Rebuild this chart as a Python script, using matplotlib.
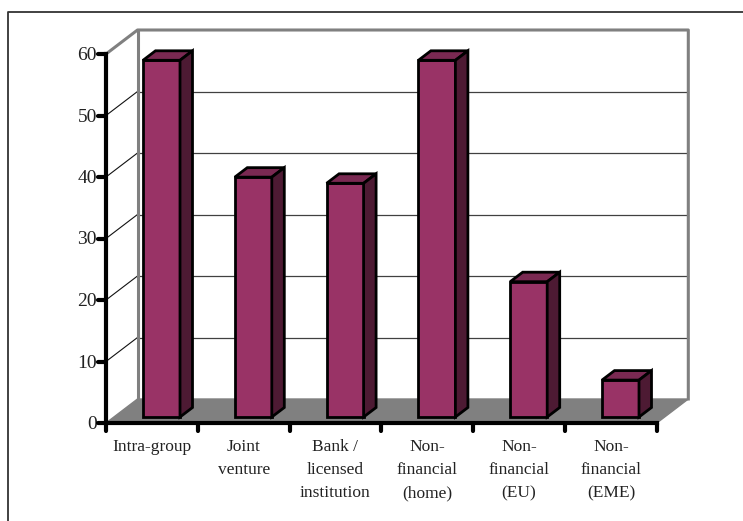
import matplotlib
matplotlib.use("Agg")
import matplotlib.pyplot as plt
from matplotlib.patches import Polygon

categories = ["Intra-group", "Joint\nventure", "Bank /\nlicensed\ninstitution",
              "Non-\nfinancial\n(home)", "Non-\nfinancial\n(EU)", "Non-\nfinancial\n(EME)"]
values = [58, 39, 38, 58, 22, 6]
y_ticks = [0, 10, 20, 30, 40, 50, 60]

W, H = 743, 521
plt.rcParams["font.family"] = ["Liberation Serif", "DejaVu Serif"]

fig = plt.figure(figsize=(W / 100, H / 100), dpi=100)
# whole figure axes: x in categories, y in chart units
# category 0 edge is at pixel 106, one category is 91.8 px, value 0 at pixel 423, 10 units 61.5 px
PX = 91.8
PY = 6.15
ax = fig.add_axes([0, 0, 1, 1])
ax.set_xlim(-106 / PX, (W - 106) / PX)
ax.set_ylim(-(H - 423) / PY, 423 / PY)
ax.axis("off")

n = len(categories)
dx, dy = 31.5 / PX, 24 / PY      # depth of the chart box
bar_w = 37 / PX
bar_dx, bar_dy = 12.5 / PX, 9.5 / PY
bar_x0 = 37 / PX
bar_y0 = 6 / PY

GREY = "#808080"
ymax = y_ticks[-1]

# outer frame, only left and top show, the rest is cut off by the picture
frame_x = -98.3 / PX
frame_top = (423 - 12) / PY
ax.plot([frame_x, frame_x, (W - 106) / PX], [-(H - 423) / PY, frame_top, frame_top],
        color="#333333", lw=1.3, zorder=0)

# floor
ax.add_patch(Polygon([(0, 0), (n, 0), (n + dx, dy), (dx, dy)], fc=GREY, ec=GREY, zorder=1))

# grid lines on back wall and side wall
for t in y_ticks[1:-1]:
    ax.plot([dx, n + dx], [t + dy, t + dy], color="#404040", lw=0.9, zorder=1)
    ax.plot([0, dx], [t, t + dy], color="#111111", lw=0.8, zorder=1)

# back wall outline
ax.plot([0, dx, n + dx, n + dx], [ymax, ymax + dy, ymax + dy, dy], color=GREY, lw=2.2, zorder=1)
ax.plot([dx, dx], [dy, ymax + dy], color=GREY, lw=2.2, zorder=1)

# bars
for i, v in enumerate(values):
    x0 = i + bar_x0
    x1 = x0 + bar_w
    y0 = bar_y0
    top = y0 + v
    ax.add_patch(Polygon([(x0, y0), (x1, y0), (x1, top), (x0, top)], fc="#993366", ec="black", lw=2, joinstyle="miter", zorder=3))
    ax.add_patch(Polygon([(x0, top), (x1, top), (x1 + bar_dx, top + bar_dy), (x0 + bar_dx, top + bar_dy)],
                         fc="#7a2952", ec="black", lw=2, joinstyle="miter", zorder=3))
    ax.add_patch(Polygon([(x1, y0), (x1 + bar_dx, y0 + bar_dy), (x1 + bar_dx, top + bar_dy), (x1, top)],
                         fc="#4d1a33", ec="black", lw=2, joinstyle="miter", zorder=3))

# axes
ax.plot([0, 0], [0, ymax], color="black", lw=3, solid_capstyle="projecting", zorder=4)
ax.plot([0, n], [0, 0], color="black", lw=3, solid_capstyle="projecting", zorder=4)
for t in y_ticks:
    ax.plot([-8 / PX, 0], [t, t], color="black", lw=3, solid_capstyle="round", zorder=4)
    ax.text(-9 / PX, t - 1.5 / PY, str(t), ha="right", va="center", fontsize=14, color="#222222")
for i in range(n + 1):
    ax.plot([i, i], [0, -8 / PY], color="black", lw=3, solid_capstyle="round", zorder=4)
for i, c in enumerate(categories):
    ax.text(i + 0.5, -16 / PY, c, ha="center", va="top", fontsize=12.5, color="#222222", linespacing=1.58)

fig.savefig("out.png", dpi=100)
